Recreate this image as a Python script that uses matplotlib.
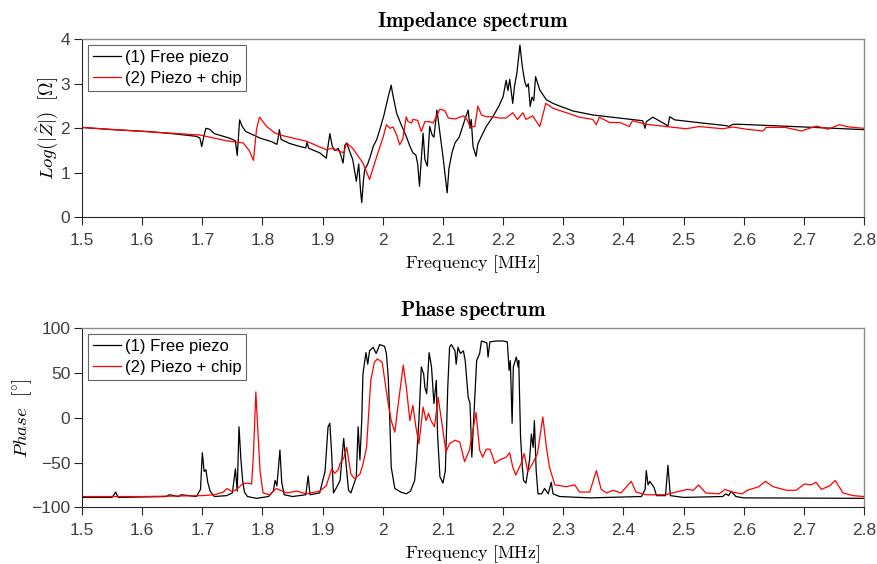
import matplotlib
matplotlib.use("Agg")
import matplotlib.pyplot as plt

# impedance, free piezo (MHz, log|Z|)
f_imp_free = [1.500, 1.550, 1.607, 1.650, 1.690, 1.696, 1.699, 1.703, 1.706, 1.712, 1.720, 1.745,
              1.755, 1.758, 1.760, 1.762, 1.766, 1.772, 1.785, 1.796, 1.815, 1.824, 1.826, 1.828,
              1.831, 1.845, 1.860, 1.872, 1.874, 1.877, 1.895, 1.906, 1.909, 1.912, 1.916, 1.920,
              1.926, 1.929, 1.934, 1.937, 1.940, 1.945, 1.950, 1.956, 1.960, 1.963, 1.965, 1.968,
              1.970, 1.975, 1.980, 1.984, 1.990, 1.995, 2.002, 2.009, 2.014, 2.016, 2.023, 2.030,
              2.039, 2.045, 2.050, 2.055, 2.058, 2.061, 2.064, 2.067, 2.070, 2.074, 2.078, 2.082,
              2.085, 2.090, 2.093, 2.100, 2.104, 2.107, 2.110, 2.115, 2.120, 2.127, 2.131, 2.138,
              2.142, 2.145, 2.147, 2.150, 2.155, 2.158, 2.165, 2.172, 2.183, 2.193, 2.200, 2.205,
              2.208, 2.211, 2.216, 2.219, 2.223, 2.228, 2.232, 2.236, 2.239, 2.242, 2.245, 2.248,
              2.251, 2.254, 2.261, 2.272, 2.283, 2.294, 2.316, 2.349, 2.394, 2.432, 2.436, 2.438,
              2.449, 2.471, 2.474, 2.477, 2.485, 2.530, 2.571, 2.575, 2.582, 2.593, 2.700, 2.800]
z_free = [2.02, 1.97, 1.93, 1.88, 1.82, 1.78, 1.59, 1.85, 2.00, 1.98, 1.88, 1.78,
          1.72, 1.39, 1.80, 2.19, 2.05, 1.93, 1.85, 1.78, 1.70, 1.64, 1.78, 1.97,
          1.75, 1.66, 1.60, 1.56, 1.68, 1.55, 1.45, 1.33, 1.60, 1.88, 1.60, 1.50,
          1.55, 1.45, 1.22, 1.62, 1.67, 1.48, 1.30, 0.81, 1.20, 0.60, 0.33, 0.85,
          1.07, 1.20, 1.40, 1.59, 1.75, 1.97, 2.30, 2.71, 2.97, 2.80, 2.34, 2.10,
          1.82, 1.60, 1.45, 1.40, 1.20, 0.70, 1.30, 1.89, 1.30, 1.15, 2.04, 1.85,
          1.80, 2.41, 2.10, 1.37, 0.90, 0.55, 1.10, 1.45, 1.67, 1.80, 1.97, 2.26,
          2.41, 2.00, 2.20, 1.59, 1.37, 1.65, 1.85, 2.04, 2.26, 2.50, 2.71, 3.08,
          2.85, 3.10, 2.56, 2.95, 3.25, 3.87, 3.38, 3.05, 2.93, 3.00, 2.49, 2.70,
          2.62, 3.16, 2.86, 2.64, 2.56, 2.50, 2.39, 2.30, 2.23, 2.17, 2.00, 2.15,
          2.25, 2.08, 2.05, 2.26, 2.19, 2.12, 2.06, 2.04, 2.09, 2.09, 2.03, 1.97]

# impedance, piezo + chip
f_imp_chip = [1.500, 1.600, 1.696, 1.740, 1.768, 1.778, 1.785, 1.790, 1.795, 1.807, 1.820, 1.829,
              1.873, 1.906, 1.916, 1.925, 1.935, 1.940, 1.950, 1.967, 1.978, 1.990, 2.001, 2.006,
              2.012, 2.017, 2.023, 2.028, 2.033, 2.039, 2.042, 2.048, 2.050, 2.058, 2.064, 2.070,
              2.078, 2.084, 2.089, 2.095, 2.103, 2.109, 2.120, 2.134, 2.140, 2.145, 2.153, 2.158,
              2.164, 2.172, 2.183, 2.194, 2.205, 2.216, 2.224, 2.233, 2.238, 2.249, 2.261, 2.271,
              2.283, 2.316, 2.327, 2.349, 2.355, 2.360, 2.377, 2.394, 2.410, 2.415, 2.438, 2.471,
              2.504, 2.526, 2.565, 2.582, 2.604, 2.632, 2.637, 2.669, 2.696, 2.721, 2.740, 2.759,
              2.775, 2.800]
z_chip = [2.02, 1.93, 1.85, 1.72, 1.67, 1.50, 1.28, 1.97, 2.25, 2.04, 1.90, 1.85,
          1.71, 1.52, 1.55, 1.50, 1.45, 1.67, 1.55, 1.22, 0.85, 1.37, 1.82, 2.08,
          2.00, 2.03, 1.85, 1.63, 1.75, 2.26, 2.15, 2.12, 2.20, 2.18, 1.93, 2.15,
          2.15, 2.12, 2.27, 2.43, 2.40, 2.23, 2.21, 2.28, 2.20, 2.04, 2.04, 2.50,
          2.30, 2.26, 2.26, 2.23, 2.23, 2.35, 2.20, 2.35, 2.20, 2.28, 2.04, 2.56,
          2.45, 2.30, 2.25, 2.20, 2.08, 2.25, 2.13, 2.13, 2.04, 2.17, 2.09, 2.04,
          1.99, 2.04, 1.99, 2.03, 1.98, 1.94, 2.02, 2.02, 1.94, 2.05, 1.98, 2.08,
          2.03, 2.00]

# phase, free piezo (deg)
f_ph_free = [1.500, 1.550, 1.556, 1.560, 1.640, 1.645, 1.660, 1.665, 1.690, 1.697, 1.700, 1.703,
             1.706, 1.709, 1.713, 1.720, 1.740, 1.750, 1.755, 1.758, 1.761, 1.764, 1.767, 1.770,
             1.775, 1.790, 1.810, 1.818, 1.821, 1.824, 1.829, 1.832, 1.836, 1.850, 1.872, 1.876,
             1.879, 1.895, 1.904, 1.909, 1.912, 1.915, 1.918, 1.923, 1.929, 1.935, 1.943, 1.947,
             1.956, 1.959, 1.962, 1.965, 1.967, 1.972, 1.975, 1.978, 1.984, 1.989, 1.995, 2.003,
             2.006, 2.009, 2.011, 2.014, 2.020, 2.030, 2.039, 2.046, 2.053, 2.056, 2.060, 2.064,
             2.068, 2.070, 2.073, 2.077, 2.081, 2.085, 2.089, 2.091, 2.095, 2.100, 2.104, 2.108,
             2.111, 2.114, 2.120, 2.122, 2.125, 2.129, 2.134, 2.137, 2.142, 2.145, 2.148, 2.151,
             2.156, 2.161, 2.164, 2.173, 2.175, 2.178, 2.189, 2.200, 2.207, 2.210, 2.212, 2.215,
             2.217, 2.222, 2.225, 2.226, 2.229, 2.232, 2.234, 2.238, 2.244, 2.247, 2.250, 2.252,
             2.255, 2.258, 2.264, 2.269, 2.275, 2.280, 2.283, 2.294, 2.345, 2.430, 2.436, 2.438,
             2.441, 2.444, 2.448, 2.451, 2.455, 2.470, 2.474, 2.478, 2.500, 2.565, 2.570, 2.575,
             2.579, 2.587, 2.600, 2.800]
ph_free = [-89, -89, -83, -89, -88, -86, -88, -86, -88, -80, -39, -60,
           -58, -72, -82, -88, -87, -84, -57, -82, -10, -45, -70, -83,
           -88, -90, -88, -82, -70, -76, -36, -72, -86, -88, -86, -65,
           -86, -84, -60, -10, -6, -40, -84, -78, -70, -23, -81, -84,
           -66, -10, -47, -3, 49, 73, 60, 75, 79, 72, 82, 80,
           72, 46, 12, -55, -79, -83, -85, -82, -70, -47, -3, 57,
           49, 34, 27, 73, 57, 16, 42, -18, -66, -73, -59, 34,
           79, 82, 75, 60, 79, 72, 75, 64, 23, 16, -44, -3,
           64, 72, 86, 84, 68, 85, 86, 86, 85, 53, 64, -6,
           57, 68, 57, 64, -21, -55, -70, -73, -47, -18, -33, -3,
           -59, -85, -85, -79, -85, -72, -85, -88, -89.5, -88, -80, -59,
           -75, -71, -75, -78, -87, -87, -53, -87, -89, -88, -85, -87,
           -82, -88, -89.5, -90]

# phase, piezo + chip
f_ph_chip = [1.500, 1.600, 1.700, 1.720, 1.735, 1.741, 1.748, 1.755, 1.768, 1.775, 1.782, 1.785,
             1.789, 1.792, 1.796, 1.801, 1.812, 1.823, 1.840, 1.857, 1.873, 1.895, 1.906, 1.915,
             1.920, 1.926, 1.929, 1.935, 1.940, 1.947, 1.953, 1.962, 1.967, 1.973, 1.980, 1.986,
             1.991, 1.999, 2.009, 2.014, 2.020, 2.025, 2.034, 2.039, 2.045, 2.050, 2.055, 2.060,
             2.067, 2.072, 2.076, 2.080, 2.086, 2.092, 2.097, 2.105, 2.111, 2.120, 2.128, 2.136,
             2.144, 2.155, 2.161, 2.166, 2.172, 2.178, 2.183, 2.186, 2.194, 2.205, 2.211, 2.216,
             2.221, 2.230, 2.235, 2.241, 2.249, 2.257, 2.266, 2.272, 2.277, 2.286, 2.305, 2.319,
             2.327, 2.344, 2.355, 2.363, 2.372, 2.383, 2.396, 2.413, 2.421, 2.437, 2.470, 2.487,
             2.507, 2.516, 2.525, 2.537, 2.559, 2.569, 2.581, 2.597, 2.606, 2.625, 2.636, 2.649,
             2.671, 2.687, 2.701, 2.712, 2.720, 2.729, 2.743, 2.752, 2.765, 2.782, 2.800]
ph_chip = [-88, -88, -87, -86, -83, -79, -82, -81, -73.5, -73, -74, -40,
           29, -10, -60, -84, -86, -79, -84, -82, -85, -82, -76, -57,
           -62, -58, -51, -45, -33, -63, -68, -63, -52, -33, 42, 62,
           66, 62, 16, -3, -16, 12, 59, 35, -3, 14, -10, -29,
           12, -3, 5, -3, -10, 23, 0, -38, -29, -25, -27, -49,
           -36, 6, -36, -44, -35, -35, -44, -51, -47, -44, -39, -55,
           -64, -51, -40, -60, -51, -40, 1, -33, -55, -75, -77, -75,
           -83, -83, -59, -80, -84, -81, -84, -71, -83, -86, -86, -83,
           -80, -81, -75, -84, -85, -80, -83, -85, -81, -77, -71, -77,
           -81, -81, -74, -75, -72, -80, -76, -70, -84, -87, -88]

xticks = [1.5, 1.6, 1.7, 1.8, 1.9, 2.0, 2.1, 2.2, 2.3, 2.4, 2.5, 2.6, 2.7, 2.8]
xticklabels = ["1.5", "1.6", "1.7", "1.8", "1.9", "2", "2.1", "2.2", "2.3", "2.4", "2.5", "2.6", "2.7", "2.8"]

plt.rcParams['mathtext.fontset'] = 'cm'
plt.rcParams['font.family'] = 'Liberation Sans'

fig = plt.figure(figsize=(8.78, 5.64), dpi=100)
ax1 = fig.add_axes([0.0934, 0.6147, 0.8907, 0.3156])
ax2 = fig.add_axes([0.0934, 0.1006, 0.8907, 0.3170])

ax1.plot(f_imp_free, z_free, color='black', lw=0.9, label='(1) Free piezo')
ax1.plot(f_imp_chip, z_chip, color='red', lw=0.9, label='(2) Piezo + chip')
ax1.set_ylim(0, 4)
ax1.set_yticks([0, 1, 2, 3, 4])
ax1.set_title(r'$\mathbf{Impedance\ spectrum}$', fontsize=15, pad=9)
ax1.set_ylabel(r'$Log(|\hat{Z}|)\ \ [\Omega]$', fontsize=13.5, labelpad=0)

ax2.plot(f_ph_free, ph_free, color='black', lw=0.9, label='(1) Free piezo')
ax2.plot(f_ph_chip, ph_chip, color='red', lw=0.9, label='(2) Piezo + chip')
ax2.set_ylim(-100, 100)
ax2.set_yticks([-100, -50, 0, 50, 100])
ax2.set_title(r'$\mathbf{Phase\ spectrum}$', fontsize=15, pad=9)
ax2.set_ylabel(r'$Phase\ \ [^{\circ}]$', fontsize=13.5, labelpad=-2)

for ax in (ax1, ax2):
    ax.set_xlim(1.5, 2.8)
    ax.set_xticks(xticks)
    ax.set_xticklabels(xticklabels)
    ax.set_xlabel(r'$\mathrm{Frequency\ [MHz]}$', fontsize=13, labelpad=4)
    ax.tick_params(direction='out', length=5.5, width=0.8, labelsize=12.5,
                   color='#262626', labelcolor='#404040', pad=3)
    ax.tick_params(axis='x', pad=5.5)
    ax.spines['left'].set_color('#262626')
    ax.spines['bottom'].set_color('#262626')
    ax.spines['top'].set_color('#8c8c8c')
    ax.spines['right'].set_color('#8c8c8c')
    ax.spines['left'].set_linewidth(0.8)
    ax.spines['bottom'].set_linewidth(0.8)
    ax.spines['top'].set_linewidth(1.0)
    ax.spines['right'].set_linewidth(1.0)
    leg = ax.legend(loc='upper left', fontsize=12, handlelength=1.7, handletextpad=0.2,
                    borderpad=0.3, labelspacing=0.35, borderaxespad=0.35, fancybox=False)
    leg.get_frame().set_edgecolor('#404040')
    leg.get_frame().set_linewidth(0.8)

fig.savefig('out.png', dpi=100)
